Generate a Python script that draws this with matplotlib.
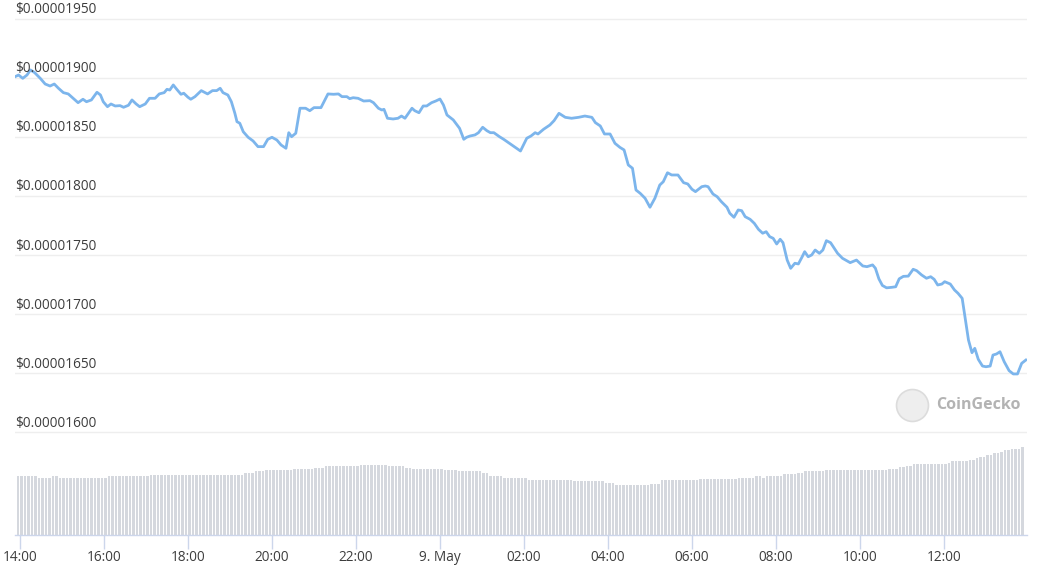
import matplotlib
matplotlib.use("Agg")
import matplotlib.pyplot as plt
import matplotlib.transforms as mtransforms
###############################################################################
# Price line
# minutes after 14:00 (8 May) and price in units of 1e-8 USD
price_min = [
    -7, -2, 4, 10, 15, 21, 29, 36, 43, 49, 55, 62, 69, 76, 83, 90, 95, 102, 110, 115,
    119, 125, 130, 136, 143, 148, 155, 160, 166, 171, 179, 185, 193, 199, 206, 210,
    214, 219, 224, 230, 234, 240,
    244, 250, 259, 268, 275, 281, 286, 290, 297, 302, 307, 310, 314, 319, 326, 333,
    340, 348, 354, 360, 367, 373, 380, 384, 388, 394, 400, 408, 414, 420, 430, 440,
    448, 455, 460, 467, 471, 476, 483,
    491, 500, 505, 512, 517, 520, 525, 533, 540, 545, 550, 560, 564, 570, 576, 581,
    588, 594, 600, 605, 610, 619, 628, 634, 638, 643, 650, 655, 661, 667, 672, 677,
    685, 691, 698, 706, 715, 724, 730, 736,
    740, 748, 757, 763, 770, 779, 788, 798, 807, 817, 822, 829, 835, 843, 850, 857,
    863, 869, 875, 880, 886, 893, 900, 907, 914, 919, 925, 931, 940, 948, 954, 960,
    965, 974, 979,
    983, 990, 996, 1002, 1010, 1014, 1020, 1026, 1031, 1036, 1043, 1049, 1055, 1061,
    1066, 1071, 1076, 1081, 1086, 1090, 1096, 1101, 1107, 1112, 1117, 1121, 1126,
    1131, 1136, 1142, 1147, 1152, 1158, 1168, 1175, 1186, 1195, 1204, 1210,
    1218, 1222, 1227, 1232, 1238, 1245, 1251, 1256, 1262, 1269, 1276, 1281, 1288,
    1295, 1301, 1306, 1311, 1317, 1321, 1329, 1335, 1340, 1346, 1350, 1355, 1360,
    1364, 1369, 1375, 1380, 1386, 1390, 1395, 1400, 1406, 1413, 1419, 1425, 1431, 1437,
]
price = [
    1901.1, 1902.5, 1899.7, 1902.5, 1906.8, 1904.5, 1899.7, 1894.9, 1893.2, 1894.9,
    1891.3, 1887.6, 1886.5, 1882.8, 1879.1, 1882.0, 1879.9, 1881.4, 1887.9, 1885.6,
    1879.9, 1875.7, 1878.0, 1876.3, 1876.6, 1875.2, 1876.9, 1881.4, 1878.0, 1875.7,
    1878.0, 1882.8, 1882.8, 1886.5, 1887.6, 1890.4, 1889.8, 1894.1, 1890.4, 1886.2,
    1887.1, 1883.7,
    1882.0, 1884.2, 1889.3, 1886.5, 1889.3, 1889.3, 1891.3, 1887.6, 1885.6, 1879.9,
    1870.1, 1863.0, 1861.7, 1854.5, 1849.8, 1846.7, 1841.9, 1841.9, 1848.1, 1849.8,
    1847.5, 1843.3, 1840.5, 1853.7, 1850.3, 1853.2, 1874.4, 1874.4, 1872.3, 1874.9,
    1874.9, 1886.5, 1886.2, 1886.5, 1884.2, 1884.2, 1882.5, 1883.3, 1882.8,
    1880.5, 1880.8, 1879.1, 1874.4, 1872.9, 1873.5, 1865.9, 1865.3, 1865.9, 1867.8,
    1865.9, 1874.4, 1872.3, 1870.6, 1876.3, 1876.3, 1879.1, 1880.5, 1882.2, 1877.1,
    1868.7, 1864.5, 1857.4, 1848.1, 1849.8, 1850.9, 1851.8, 1853.7, 1858.3, 1855.4,
    1853.7, 1853.7, 1850.3, 1848.1, 1845.2, 1841.9, 1838.2, 1849.0, 1850.9, 1853.7,
    1852.6, 1856.6, 1860.2, 1863.9, 1870.1, 1866.7, 1865.9, 1866.7, 1867.8, 1866.7,
    1862.2, 1859.4, 1852.6, 1852.6, 1844.7, 1841.3, 1839.1, 1826.4, 1823.6, 1805.2,
    1802.4, 1798.2, 1790.6, 1798.2, 1809.4, 1812.2, 1819.8, 1817.9, 1817.9, 1811.4,
    1810.3, 1805.8, 1803.8, 1808.0, 1808.6,
    1808.0, 1801.8, 1799.5, 1795.3, 1790.6, 1785.5, 1782.1, 1788.3, 1787.7, 1782.6,
    1780.4, 1777.0, 1771.9, 1768.6, 1769.9, 1765.7, 1764.3, 1759.5, 1763.5, 1760.6,
    1745.9, 1738.9, 1743.2, 1742.6, 1748.2, 1753.0, 1748.7, 1750.2, 1754.4, 1751.6,
    1754.4, 1762.3, 1760.6, 1751.6, 1747.4, 1743.7, 1745.9, 1740.9, 1740.3,
    1741.8, 1739.0, 1730.0, 1724.4, 1722.4, 1722.8, 1723.3, 1730.0, 1732.1, 1732.3,
    1738.1, 1736.9, 1733.3, 1730.5, 1731.8, 1729.6, 1724.8, 1725.6, 1727.6, 1725.6,
    1720.6, 1717.8, 1713.5, 1697.9, 1678.2, 1667.5, 1671.2, 1661.9, 1656.2, 1655.6,
    1656.2, 1665.5, 1666.4, 1668.3, 1659.9, 1652.3, 1649.5, 1649.5, 1658.5, 1661.3,
]

# Volume bars, one every 5 minutes (million USD), one row per hour
volume = [
    700, 700, 700, 700, 700, 700, 680, 680, 680, 680, 700, 700,
    680, 680, 680, 680, 680, 680, 680, 680, 680, 680, 680, 680,
    680, 680, 700, 700, 700, 700, 700, 700, 700, 700, 700, 700,
    700, 700, 712, 712, 712, 712, 712, 712, 712, 712, 712, 712,
    712, 712, 712, 712, 712, 712, 712, 712, 712, 712, 712, 712,
    712, 712, 712, 712, 712, 740, 740, 740, 756, 756, 756, 772,
    772, 772, 772, 772, 772, 772, 772, 784, 784, 784, 784, 784,
    784, 800, 800, 800, 816, 816, 816, 816, 816, 816, 816, 816,
    816, 816, 832, 832, 832, 832, 832, 832, 832, 832, 816, 816,
    816, 816, 816, 800, 800, 784, 784, 784, 784, 784, 784, 784,
    784, 784, 772, 772, 772, 772, 756, 756, 756, 756, 756, 756,
    756, 740, 740, 700, 700, 700, 700, 680, 680, 680, 680, 680,
    680, 680, 652, 652, 652, 652, 652, 652, 652, 652, 652, 652,
    652, 652, 652, 644, 636, 636, 636, 636, 636, 636, 636, 636,
    620, 620, 620, 592, 592, 592, 592, 592, 588, 588, 588, 588,
    588, 608, 608, 608, 652, 652, 652, 652, 652, 652, 652, 652,
    652, 652, 652, 664, 664, 664, 664, 664, 664, 664, 664, 664,
    664, 664, 680, 680, 680, 680, 680, 700, 700, 680, 700, 700,
    700, 700, 700, 720, 720, 728, 728, 740, 740, 756, 756, 756,
    756, 756, 756, 772, 772, 772, 772, 772, 772, 772, 772, 772,
    772, 772, 772, 772, 772, 772, 772, 772, 772, 784, 784, 784,
    804, 804, 824, 824, 844, 844, 844, 844, 844, 844, 844, 844,
    844, 844, 860, 876, 876, 876, 876, 876, 892, 892, 908, 924,
    924, 944, 944, 972, 972, 988, 1012, 1012, 1024, 1024, 1024, 1044,
]
vol_min = [-3 + 5 * i for i in range(len(volume))]

tick_min = [0, 120, 240, 360, 480, 600, 720, 840, 960, 1080, 1200, 1320]
tick_labels = ["14:00", "16:00", "18:00", "20:00", "22:00", "9. May",
               "02:00", "04:00", "06:00", "08:00", "10:00", "12:00"]
grid_levels = [1600, 1650, 1700, 1750, 1800, 1850, 1900, 1950]
###############################################################################
W, H = 1037, 569
fig = plt.figure(figsize=(W / 100, H / 100), dpi=100)
fig.patch.set_facecolor("white")

# plot area in pixels: x 15..1027, y 0..535
left, right, top, bottom = 15, 1027, 0, 535
rect = [left / W, (H - bottom) / H, (right - left) / W, (bottom - top) / H]

axv = fig.add_axes(rect)
ax = fig.add_axes(rect, sharex=axv)
ax.patch.set_alpha(0)

font = "Open Sans"
text_color = "#3d3d3d"
axis_color = "#ccd6eb"

# volume bars in the lower pane
axv.bar(vol_min, volume, width=3.7, color="#d5d8de", linewidth=0, align="center")
axv.set_ylim(0, max(volume) * (bottom - top) / 88.0)
axv.set_yticks([])
for s in ["top", "left", "right"]:
    axv.spines[s].set_visible(False)
axv.spines["bottom"].set_color(axis_color)
axv.spines["bottom"].set_linewidth(1)
axv.set_xlim(-7.1, 1438.6)
axv.set_xticks(tick_min)
axv.set_xticklabels(tick_labels, fontsize=9.8, color=text_color, fontfamily=font)
axv.tick_params(axis="x", length=10, width=1, color=axis_color, pad=1)

# price line
ax.plot(price_min, price, color="#7cb5ec", linewidth=2.0, solid_joinstyle="round")
ax.set_ylim(1513.2, 1966.0)
ax.set_yticks(grid_levels)
ax.yaxis.grid(True, color="#eeeeee", linewidth=1)
ax.tick_params(axis="y", length=0, labelleft=False)
ax.tick_params(axis="x", length=0, labelbottom=False)
for s in ax.spines.values():
    s.set_visible(False)

# y labels sit on top of the gridlines, left aligned
trans = mtransforms.blended_transform_factory(ax.transAxes, ax.transData)
for lv in grid_levels:
    ax.annotate("$%.8f" % (lv * 1e-8), (0, lv), xycoords=trans,
                xytext=(0, 1.2), textcoords="offset points",
                ha="left", va="bottom", fontsize=9.8, color=text_color,
                fontfamily=font)

# CoinGecko watermark
fig.add_artist(plt.Line2D([912 / W], [1 - 405 / H], marker="o", markersize=23,
                          markerfacecolor="#eeeeee", markeredgecolor="#dcdcdc",
                          markeredgewidth=1.2, transform=fig.transFigure))
fig.text(978 / W, 1 - 405 / H, "CoinGecko", fontsize=11.5, color="#b3b3b3",
         ha="center", va="center", fontweight="bold", fontfamily=font)

fig.savefig("out.png", dpi=100, facecolor="white")
